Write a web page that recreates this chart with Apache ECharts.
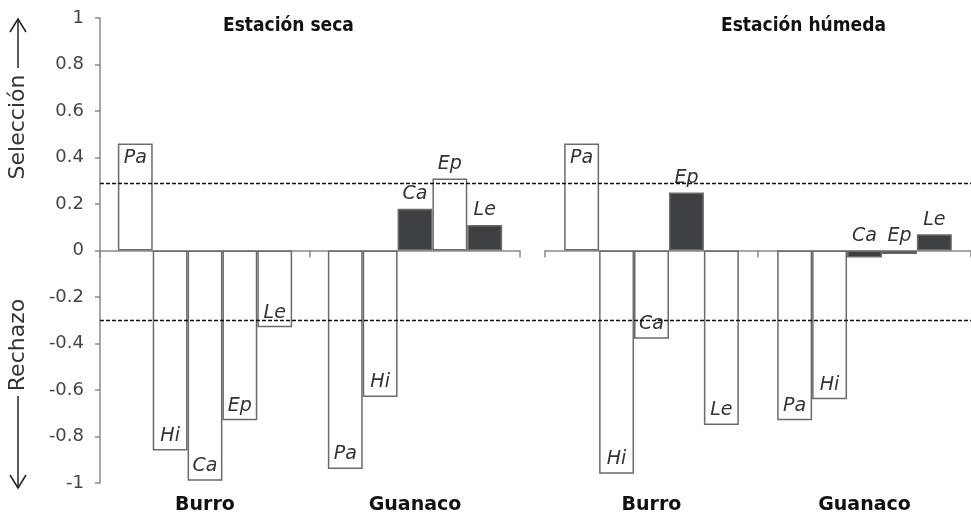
<!DOCTYPE html>
<html>
<head>
<meta charset="utf-8">
<script src="https://cdn.jsdelivr.net/npm/echarts@6/dist/echarts.min.js"></script>
<style>
  html, body { margin: 0; padding: 0; background: #fff; }
  #main { width: 971px; height: 519px; }
</style>
</head>
<body>
<div id="main"></div>
<script>
// datos
var grupos = ['Burro', 'Guanaco'];
var especies = ['Pa', 'Hi', 'Ca', 'Ep', 'Le'];
var estaciones = ['Estación seca', 'Estación húmeda'];

var secaBurro = [0.46, -0.86, -0.99, -0.73, -0.33];
var secaGuanaco = [-0.94, -0.63, 0.18, 0.31, 0.11];
var humedaBurro = [0.46, -0.96, -0.38, 0.25, -0.75];
var humedaGuanaco = [-0.73, -0.64, -0.03, -0.015, 0.07];

// 1 = barra rellena
var secaBurroSig = [0, 0, 0, 0, 0];
var secaGuanacoSig = [0, 0, 1, 0, 1];
var humedaBurroSig = [0, 0, 0, 1, 0];
var humedaGuanacoSig = [0, 0, 1, 1, 1];

var umbrales = [0.29, -0.3];
var yMin = -1, yMax = 1, yPaso = 0.2;

var oscuro = '#3e4144';
var borde = '#6b6b6b';
var eje = '#8a8a8a';

function punto(v, sig) {
  var pos;
  if (sig || (v >= 0 && v < 0.4)) pos = 'top';   // barras cortas: etiqueta encima
  else pos = v >= 0 ? 'insideTop' : 'insideBottom';
  return {
    value: v,
    itemStyle: { color: sig ? oscuro : '#fff' },
    label: { position: pos }
  };
}

var paneles = [
  { burro: secaBurro, guanaco: secaGuanaco, bs: secaBurroSig, gs: secaGuanacoSig, gap: '17%' },
  { burro: humedaBurro, guanaco: humedaGuanaco, bs: humedaBurroSig, gs: humedaGuanacoSig, gap: '18%' }
];

var series = [];
paneles.forEach(function (p, k) {
  especies.forEach(function (esp, i) {
    series.push({
      name: esp,
      type: 'bar',
      xAxisIndex: 2 * k,
      yAxisIndex: k,
      barGap: '0%',
      barCategoryGap: p.gap,
      itemStyle: { borderColor: borde, borderWidth: 1.5 },
      label: {
        show: true,
        formatter: '{a}',
        fontStyle: 'italic',
        fontSize: 19,
        fontFamily: 'DejaVu Sans',
        color: '#333',
        distance: 5
      },
      data: [punto(p.burro[i], p.bs[i]), punto(p.guanaco[i], p.gs[i])]
    });
  });
});

// lineas de umbral a traves de ambos paneles
series.push({
  type: 'scatter',
  xAxisIndex: 4,
  yAxisIndex: 2,
  data: [],
  silent: true,
  markLine: {
    symbol: 'none',
    silent: true,
    label: { show: false },
    lineStyle: { color: '#111', type: [4, 2], width: 1.3 },
    data: umbrales.map(function (u) { return { yAxis: u }; })
  }
});

function ejeCat(grid) {
  return [{
    type: 'category', gridIndex: grid, data: grupos,
    axisLine: { onZero: true, lineStyle: { color: eje, width: 1.5 } },
    axisTick: { show: true, length: 7, lineStyle: { color: eje, width: 1.5 } },
    axisLabel: { show: false }
  }, {
    type: 'category', gridIndex: grid, data: grupos, position: 'bottom',
    axisLine: { show: false, onZero: false },
    axisTick: { show: false },
    axisLabel: {
      show: true, margin: 13, fontSize: 19, fontWeight: 'bold',
      fontFamily: 'DejaVu Sans', color: '#111'
    }
  }];
}

var tituloEstilo = { fontSize: 19, fontWeight: 'bold', fontFamily: 'DejaVu Sans Condensed', color: '#111' };

var option = {
  animation: false,
  title: [
    { text: estaciones[0], left: 218, top: 12, textStyle: tituloEstilo },
    { text: estaciones[1], left: 716, top: 12, textStyle: tituloEstilo }
  ],
  grid: [
    { left: 100, top: 18, width: 420, bottom: 36 },
    { left: 545, top: 18, width: 436, bottom: 36 },
    { left: 100, top: 18, right: 0, bottom: 36 }
  ],
  xAxis: ejeCat(0).concat(ejeCat(1)).concat([
    { type: 'value', gridIndex: 2, min: 0, max: 1, show: false }
  ]),
  yAxis: [
    {
      type: 'value', gridIndex: 0, min: yMin, max: yMax, interval: yPaso,
      axisLine: { show: true, lineStyle: { color: eje, width: 1.5 } },
      axisTick: { show: true, length: 5, lineStyle: { color: eje, width: 1.5 } },
      splitLine: { show: false },
      axisLabel: { margin: 16, fontSize: 18, fontFamily: 'DejaVu Sans', color: '#444' }
    },
    { type: 'value', gridIndex: 1, min: yMin, max: yMax, show: false, splitLine: { show: false } },
    { type: 'value', gridIndex: 2, min: yMin, max: yMax, show: false, splitLine: { show: false } }
  ],
  graphic: [
    { type: 'text', x: 18, y: 127, rotation: Math.PI / 2,
      style: { text: 'Selección', fontSize: 22, fontFamily: 'DejaVu Sans', fill: '#333',
               align: 'center', verticalAlign: 'middle' } },
    { type: 'text', x: 18, y: 345, rotation: Math.PI / 2,
      style: { text: 'Rechazo', fontSize: 22, fontFamily: 'DejaVu Sans', fill: '#333',
               align: 'center', verticalAlign: 'middle' } },
    { type: 'line', shape: { x1: 18, y1: 68, x2: 18, y2: 19 }, style: { stroke: '#222', lineWidth: 1.5 } },
    { type: 'polyline', shape: { points: [[10, 32], [18, 19], [26, 32]] }, style: { stroke: '#222', lineWidth: 1.5, fill: null } },
    { type: 'line', shape: { x1: 18, y1: 396, x2: 18, y2: 488 }, style: { stroke: '#222', lineWidth: 1.5 } },
    { type: 'polyline', shape: { points: [[10, 475], [18, 488], [26, 475]] }, style: { stroke: '#222', lineWidth: 1.5, fill: null } }
  ],
  series: series
};

var chart = echarts.init(document.getElementById('main'));
chart.setOption(option);
</script>
</body>
</html>
